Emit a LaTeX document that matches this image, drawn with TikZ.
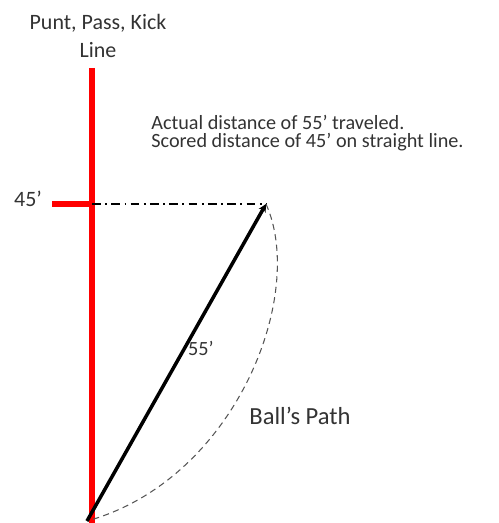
\documentclass[tikz,border=0pt]{standalone}
\usepackage{fontspec}
\setmainfont{Carlito}
\usetikzlibrary{arrows.meta}
\definecolor{lineRed}{RGB}{255,0,0}
\definecolor{pathGray}{RGB}{85,85,85}
\tikzset{kickline/.style={draw=lineRed,line width=3pt},
 throwline/.style={draw=black,line width=2pt,-{Stealth[length=4.5pt,width=4.5pt]}},
 scoreline/.style={draw=black,line width=.8pt,dash pattern=on 5pt off 2.5pt on 1pt off 2.5pt},
 ballpath/.style={draw=pathGray,line width=.6pt,dash pattern=on 3.5pt off 2.5pt},
 note/.style={inner sep=0pt,text=black!80,font=\fontsize{11.5}{13.8}\selectfont}}

\begin{document}
\begin{tikzpicture}[x=0.02cm,y=-0.02cm]
\useasboundingbox (0,0) rectangle (499,523);
\coordinate (top) at (92,68);
\coordinate (bottom) at (92,523);
\coordinate (tickL) at (52,204);
\coordinate (tickR) at (92,204);
\coordinate (throw) at (87,521);
\coordinate (land) at (266,204);
\draw[kickline] (top) -- (bottom);
\draw[kickline] (tickL) -- (tickR);
\draw[scoreline] (tickR) -- (land);
\draw[ballpath] (land) .. controls (307,295) and (235,480) .. (throw);
\draw[throwline] (throw) -- (land);
\node[note,font=\fontsize{12.5}{15}\selectfont] (title) at (98,23) {Punt, Pass, Kick};
\node[note,font=\fontsize{12.5}{15}\selectfont] (titleB) at (98,50) {Line};
\node[note,anchor=west] (actual) at (151,122) {Actual distance of 55’ traveled.};
\node[note,anchor=west] (scored) at (151,142) {Scored distance of 45’ on straight line.};
\node[note,font=\fontsize{12.5}{15}\selectfont] (mark) at (28,199) {45’};
\node[note] (length) at (201,348) {55’};
\node[note,font=\fontsize{14}{17}\selectfont] (path) at (300,416) {Ball’s Path};
\end{tikzpicture}
\end{document}
